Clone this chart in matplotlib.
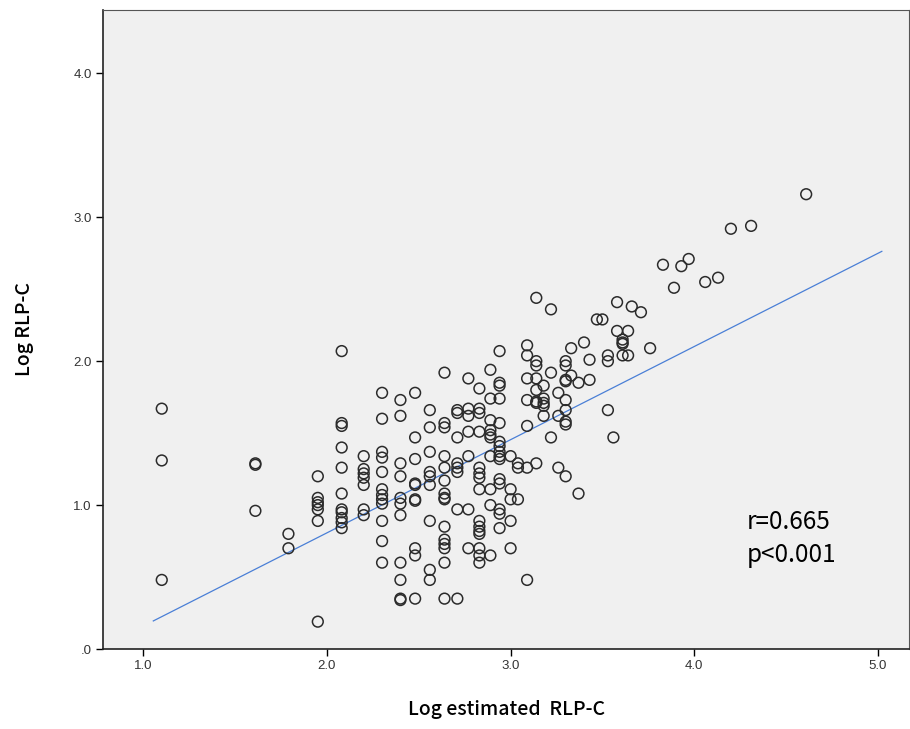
import matplotlib.pyplot as plt
import numpy as np

# Log estimated RLP-C (x) and Log RLP-C (y), one list entry per column of x
columns_x = [1.10, 1.61, 1.79, 1.95, 2.08, 2.20, 2.30, 2.40, 2.48, 2.56,
             2.64, 2.71, 2.77, 2.83, 2.89, 2.94, 3.00, 3.04, 3.09, 3.14,
             3.18, 3.22, 3.26, 3.30, 3.33, 3.37, 3.40, 3.43, 3.47, 3.50,
             3.53, 3.56, 3.58, 3.61, 3.64, 3.66, 3.71, 3.76, 3.83, 3.89,
             3.93, 3.97, 4.06, 4.13, 4.20, 4.31, 4.61]
columns_y = [
    [1.67, 1.31, 0.48],
    [1.29, 1.28, 0.96],
    [0.80, 0.70],
    [1.20, 1.05, 1.02, 1.00, 0.97, 0.89, 0.19],
    [2.07, 1.57, 1.55, 1.40, 1.26, 1.08, 0.97, 0.95, 0.91, 0.88, 0.84],
    [1.34, 1.25, 1.22, 1.19, 1.14, 0.97, 0.93],
    [1.78, 1.60, 1.37, 1.33, 1.23, 1.11, 1.07, 1.04, 1.01, 0.89, 0.75, 0.60],
    [1.73, 1.62, 1.29, 1.20, 1.05, 1.01, 0.93, 0.60, 0.48, 0.35, 0.34],
    [1.78, 1.47, 1.32, 1.15, 1.14, 1.04, 1.03, 0.70, 0.65, 0.35],
    [1.66, 1.54, 1.37, 1.23, 1.20, 1.14, 0.89, 0.55, 0.48],
    [1.92, 1.57, 1.54, 1.34, 1.26, 1.17, 1.08, 1.05, 1.04, 0.85, 0.76, 0.73, 0.70, 0.60, 0.35],
    [1.66, 1.64, 1.47, 1.29, 1.26, 1.23, 0.97, 0.35],
    [1.88, 1.67, 1.62, 1.51, 1.34, 0.97, 0.70],
    [1.81, 1.67, 1.64, 1.51, 1.26, 1.22, 1.19, 1.11, 0.89, 0.85, 0.82, 0.80, 0.70, 0.65, 0.60],
    [1.94, 1.74, 1.59, 1.52, 1.49, 1.47, 1.34, 1.11, 1.00, 0.65],
    [2.07, 1.85, 1.83, 1.74, 1.57, 1.44, 1.41, 1.37, 1.34, 1.32, 1.18, 1.15, 0.97, 0.94, 0.84],
    [1.34, 1.11, 1.04, 0.89, 0.70],
    [1.29, 1.26, 1.04],
    [2.11, 2.04, 1.88, 1.73, 1.55, 1.26, 0.48],
    [2.44, 2.00, 1.97, 1.88, 1.80, 1.72, 1.71, 1.29],
    [1.83, 1.74, 1.71, 1.69, 1.62],
    [2.36, 1.92, 1.47],
    [1.78, 1.62, 1.26],
    [2.00, 1.97, 1.87, 1.86, 1.73, 1.66, 1.58, 1.56, 1.20],
    [2.09, 1.90],
    [1.85, 1.08],
    [2.13],
    [2.01, 1.87],
    [2.29],
    [2.29],
    [2.04, 2.00, 1.66],
    [1.47],
    [2.41, 2.21],
    [2.15, 2.13, 2.12, 2.04],
    [2.21, 2.04],
    [2.38],
    [2.34],
    [2.09],
    [2.67],
    [2.51],
    [2.66],
    [2.71],
    [2.55],
    [2.58],
    [2.92],
    [2.94],
    [3.16],
]

# fit line as drawn (start and end of the range)
fit_x = [1.054, 5.022]
fit_y = [0.195, 2.763]

x_ticks = [1.0, 2.0, 3.0, 4.0, 5.0]
x_tick_labels = ['1.0', '2.0', '3.0', '4.0', '5.0']
y_ticks = [0.0, 1.0, 2.0, 3.0, 4.0]
y_tick_labels = ['.0', '1.0', '2.0', '3.0', '4.0']

xs = np.concatenate([[cx] * len(cy) for cx, cy in zip(columns_x, columns_y)])
ys = np.concatenate(columns_y)

fig = plt.figure(figsize=(9.1, 7.29), dpi=100)
ax = fig.add_axes([103 / 910, 80 / 729, 806 / 910, 639 / 729])
ax.set_facecolor('#f0f0f0')

ax.scatter(xs, ys, s=60, facecolors='none', edgecolors='#2b2b2b', linewidths=1.1, zorder=3)
ax.plot(fit_x, fit_y, color='#4a7fd6', linewidth=0.9, zorder=2)

ax.set_xlim(0.78, 5.17)
ax.set_ylim(0.0, 4.44)
ax.set_xticks(x_ticks)
ax.set_xticklabels(x_tick_labels, fontsize=9.5, family='Liberation Sans', color='#333333')
ax.set_yticks(y_ticks)
ax.set_yticklabels(y_tick_labels, fontsize=9.5, family='Liberation Sans', color='#333333')
ax.tick_params(direction='out', length=5, width=1, pad=3)

for side in ['left', 'bottom']:
    ax.spines[side].set_linewidth(1.2)
    ax.spines[side].set_color('#222222')
for side in ['top', 'right']:
    ax.spines[side].set_linewidth(0.8)
    ax.spines[side].set_color('#555555')

ax.set_xlabel('Log estimated  RLP-C', fontsize=14, family='Noto Sans CJK JP',
              fontweight='medium', labelpad=20)
ax.set_ylabel('Log RLP-C', fontsize=14, family='Noto Sans CJK JP',
              fontweight='medium', labelpad=28)

ax.text(4.286, 0.88, 'r=0.665', fontsize=17.5, family='Noto Sans CJK JP', va='center', ha='left')
ax.text(4.286, 0.655, 'p<0.001', fontsize=17.5, family='Noto Sans CJK JP', va='center', ha='left')

fig.savefig('out.png', dpi=100)
